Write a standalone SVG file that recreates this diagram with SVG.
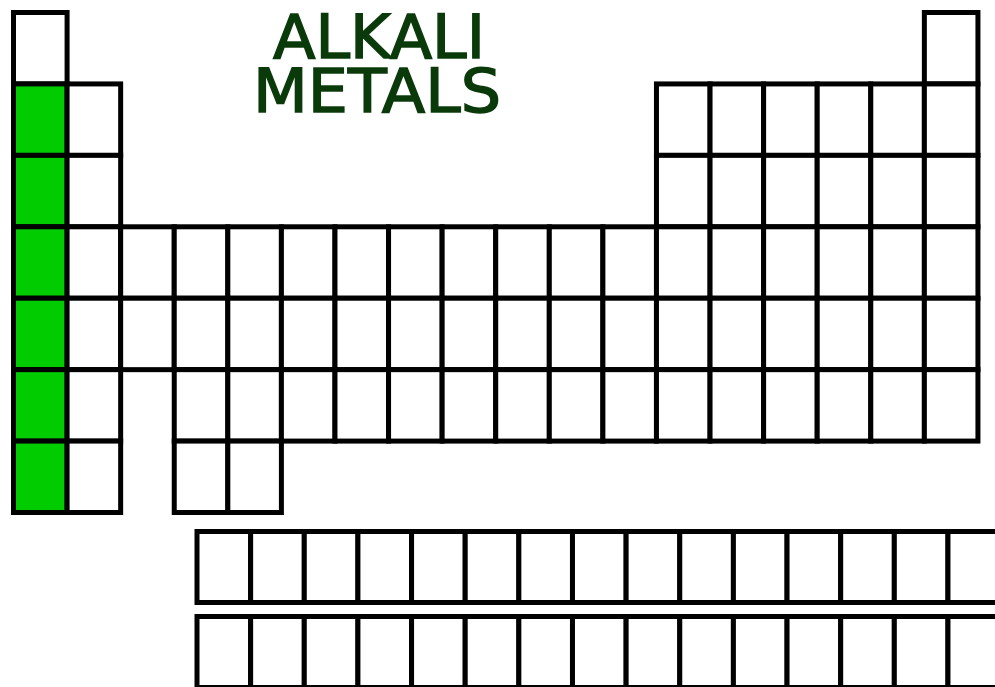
<svg xmlns="http://www.w3.org/2000/svg" xmlns:xlink="http://www.w3.org/1999/xlink" width="995" height="687" viewBox="0 0 995 687">
<style>
.c{fill:#fff;stroke:#000;stroke-width:5}
.g{fill:#00cc00;stroke:#000;stroke-width:5}
.t{font-family:"DejaVu Sans","Liberation Sans",sans-serif;font-weight:normal;fill:#0a3a0a;stroke:#0a3a0a;stroke-width:1.2}
</style>
<defs>
<rect id="cell" width="53.58" height="71.43"/>
<rect id="lc" width="53.64" height="71"/>
</defs>
<rect width="995" height="687" fill="#fff"/>
<g id="title">
<text class="t" transform="translate(273 58) scale(1 1.25)" font-size="48" textLength="212" lengthAdjust="spacingAndGlyphs">ALKALI</text>
<text class="t" transform="translate(253 112) scale(1 1.25)" font-size="48" textLength="248" lengthAdjust="spacingAndGlyphs">METALS</text>
</g>
<g id="row1">
<use href="#cell" class="c" x="13.5" y="12.5"/>
<use href="#cell" class="c" x="924.36" y="12.5"/>
</g>
<g id="row2">
<use href="#cell" class="g" x="13.5" y="83.93"/>
<use href="#cell" class="c" x="67.08" y="83.93"/>
<use href="#cell" class="c" x="656.46" y="83.93"/>
<use href="#cell" class="c" x="710.04" y="83.93"/>
<use href="#cell" class="c" x="763.62" y="83.93"/>
<use href="#cell" class="c" x="817.2" y="83.93"/>
<use href="#cell" class="c" x="870.78" y="83.93"/>
<use href="#cell" class="c" x="924.36" y="83.93"/>
</g>
<g id="row3">
<use href="#cell" class="g" x="13.5" y="155.36"/>
<use href="#cell" class="c" x="67.08" y="155.36"/>
<use href="#cell" class="c" x="656.46" y="155.36"/>
<use href="#cell" class="c" x="710.04" y="155.36"/>
<use href="#cell" class="c" x="763.62" y="155.36"/>
<use href="#cell" class="c" x="817.2" y="155.36"/>
<use href="#cell" class="c" x="870.78" y="155.36"/>
<use href="#cell" class="c" x="924.36" y="155.36"/>
</g>
<g id="row4">
<use href="#cell" class="g" x="13.5" y="226.79"/>
<use href="#cell" class="c" x="67.08" y="226.79"/>
<use href="#cell" class="c" x="120.66" y="226.79"/>
<use href="#cell" class="c" x="174.24" y="226.79"/>
<use href="#cell" class="c" x="227.82" y="226.79"/>
<use href="#cell" class="c" x="281.4" y="226.79"/>
<use href="#cell" class="c" x="334.98" y="226.79"/>
<use href="#cell" class="c" x="388.56" y="226.79"/>
<use href="#cell" class="c" x="442.14" y="226.79"/>
<use href="#cell" class="c" x="495.72" y="226.79"/>
<use href="#cell" class="c" x="549.3" y="226.79"/>
<use href="#cell" class="c" x="602.88" y="226.79"/>
<use href="#cell" class="c" x="656.46" y="226.79"/>
<use href="#cell" class="c" x="710.04" y="226.79"/>
<use href="#cell" class="c" x="763.62" y="226.79"/>
<use href="#cell" class="c" x="817.2" y="226.79"/>
<use href="#cell" class="c" x="870.78" y="226.79"/>
<use href="#cell" class="c" x="924.36" y="226.79"/>
</g>
<g id="row5">
<use href="#cell" class="g" x="13.5" y="298.22"/>
<use href="#cell" class="c" x="67.08" y="298.22"/>
<use href="#cell" class="c" x="120.66" y="298.22"/>
<use href="#cell" class="c" x="174.24" y="298.22"/>
<use href="#cell" class="c" x="227.82" y="298.22"/>
<use href="#cell" class="c" x="281.4" y="298.22"/>
<use href="#cell" class="c" x="334.98" y="298.22"/>
<use href="#cell" class="c" x="388.56" y="298.22"/>
<use href="#cell" class="c" x="442.14" y="298.22"/>
<use href="#cell" class="c" x="495.72" y="298.22"/>
<use href="#cell" class="c" x="549.3" y="298.22"/>
<use href="#cell" class="c" x="602.88" y="298.22"/>
<use href="#cell" class="c" x="656.46" y="298.22"/>
<use href="#cell" class="c" x="710.04" y="298.22"/>
<use href="#cell" class="c" x="763.62" y="298.22"/>
<use href="#cell" class="c" x="817.2" y="298.22"/>
<use href="#cell" class="c" x="870.78" y="298.22"/>
<use href="#cell" class="c" x="924.36" y="298.22"/>
</g>
<g id="row6">
<use href="#cell" class="g" x="13.5" y="369.65"/>
<use href="#cell" class="c" x="67.08" y="369.65"/>
<use href="#cell" class="c" x="174.24" y="369.65"/>
<use href="#cell" class="c" x="227.82" y="369.65"/>
<use href="#cell" class="c" x="281.4" y="369.65"/>
<use href="#cell" class="c" x="334.98" y="369.65"/>
<use href="#cell" class="c" x="388.56" y="369.65"/>
<use href="#cell" class="c" x="442.14" y="369.65"/>
<use href="#cell" class="c" x="495.72" y="369.65"/>
<use href="#cell" class="c" x="549.3" y="369.65"/>
<use href="#cell" class="c" x="602.88" y="369.65"/>
<use href="#cell" class="c" x="656.46" y="369.65"/>
<use href="#cell" class="c" x="710.04" y="369.65"/>
<use href="#cell" class="c" x="763.62" y="369.65"/>
<use href="#cell" class="c" x="817.2" y="369.65"/>
<use href="#cell" class="c" x="870.78" y="369.65"/>
<use href="#cell" class="c" x="924.36" y="369.65"/>
</g>
<g id="row7">
<use href="#cell" class="g" x="13.5" y="441.08"/>
<use href="#cell" class="c" x="67.08" y="441.08"/>
<use href="#cell" class="c" x="174.24" y="441.08"/>
<use href="#cell" class="c" x="227.82" y="441.08"/>
</g>
<g id="lanthanides">
<use href="#lc" class="c" x="197" y="531.5"/>
<use href="#lc" class="c" x="250.64" y="531.5"/>
<use href="#lc" class="c" x="304.28" y="531.5"/>
<use href="#lc" class="c" x="357.92" y="531.5"/>
<use href="#lc" class="c" x="411.56" y="531.5"/>
<use href="#lc" class="c" x="465.2" y="531.5"/>
<use href="#lc" class="c" x="518.84" y="531.5"/>
<use href="#lc" class="c" x="572.48" y="531.5"/>
<use href="#lc" class="c" x="626.12" y="531.5"/>
<use href="#lc" class="c" x="679.76" y="531.5"/>
<use href="#lc" class="c" x="733.4" y="531.5"/>
<use href="#lc" class="c" x="787.04" y="531.5"/>
<use href="#lc" class="c" x="840.68" y="531.5"/>
<use href="#lc" class="c" x="894.32" y="531.5"/>
<use href="#lc" class="c" x="947.96" y="531.5"/>
</g>
<g id="actinides">
<use href="#lc" class="c" x="197" y="616.5"/>
<use href="#lc" class="c" x="250.64" y="616.5"/>
<use href="#lc" class="c" x="304.28" y="616.5"/>
<use href="#lc" class="c" x="357.92" y="616.5"/>
<use href="#lc" class="c" x="411.56" y="616.5"/>
<use href="#lc" class="c" x="465.2" y="616.5"/>
<use href="#lc" class="c" x="518.84" y="616.5"/>
<use href="#lc" class="c" x="572.48" y="616.5"/>
<use href="#lc" class="c" x="626.12" y="616.5"/>
<use href="#lc" class="c" x="679.76" y="616.5"/>
<use href="#lc" class="c" x="733.4" y="616.5"/>
<use href="#lc" class="c" x="787.04" y="616.5"/>
<use href="#lc" class="c" x="840.68" y="616.5"/>
<use href="#lc" class="c" x="894.32" y="616.5"/>
<use href="#lc" class="c" x="947.96" y="616.5"/>
</g>
</svg>
